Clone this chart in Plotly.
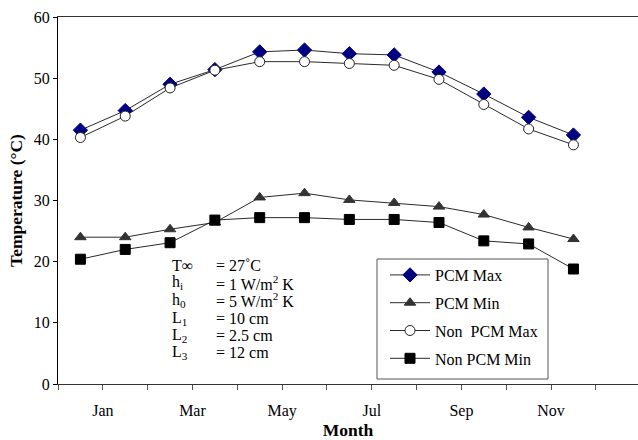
import plotly.graph_objects as go

months = ["Jan", "Feb", "Mar", "Apr", "May", "Jun", "Jul", "Aug", "Sep", "Oct", "Nov", "Dec"]
pcm_max = [41.5, 44.7, 49.0, 51.4, 54.3, 54.6, 54.0, 53.8, 51.0, 47.4, 43.6, 40.7]
pcm_min = [24.0, 24.0, 25.3, 26.4, 30.5, 31.2, 30.1, 29.6, 29.0, 27.7, 25.6, 23.7]
non_pcm_max = [40.3, 43.8, 48.4, 51.3, 52.7, 52.7, 52.4, 52.1, 49.8, 45.7, 41.7, 39.1]
non_pcm_min = [20.4, 22.0, 23.1, 26.8, 27.2, 27.2, 26.9, 26.9, 26.4, 23.4, 22.9, 18.8]

tick_positions = list(range(0, 13))
tick_labels = ["" if i % 2 == 0 else months[i - 1] for i in tick_positions]

param_names = ["T∞", "h<sub>i</sub>", "h<sub>0</sub>", "L<sub>1</sub>", "L<sub>2</sub>", "L<sub>3</sub>"]
param_values = ["= 27˚C", "= 1 W/m<sup>2</sup> K", "= 5 W/m<sup>2</sup> K", "= 10 cm", "= 2.5 cm", "= 12 cm"]
param_y = [19.45, 16.56, 13.73, 10.74, 8.01, 5.18]

xpos = [i + 0.5 for i in range(len(months))]
FONT = "Liberation Serif"
TF = dict(family=FONT, size=16, color="black")
LINE = dict(color="#2a2a2a", width=1)

fig = go.Figure()
series = [
    ("PCM Max", pcm_max, dict(symbol="diamond", size=11, color="#000080", line=dict(color="#000080", width=1))),
    ("PCM Min", pcm_min, dict(symbol="triangle-up", size=10, color="#333333", line=dict(color="#333333", width=1))),
    ("Non  PCM Max", non_pcm_max, dict(symbol="circle", size=10, color="white", line=dict(color="#222222", width=1))),
    ("Non PCM Min", non_pcm_min, dict(symbol="square", size=10, color="black", line=dict(color="black", width=1))),
]
for name, vals, mk in series:
    fig.add_trace(go.Scatter(x=xpos, y=vals, mode="lines+markers", name=name,
                             line=LINE, marker=mk, legendgroup=name))

ann = []
for n, v, yy in zip(param_names, param_values, param_y):
    ann.append(dict(x=2.5, y=yy, xref="x", yref="y", text=n, showarrow=False,
                    xanchor="left", yanchor="middle", font=TF))
    ann.append(dict(x=3.47, y=yy, xref="x", yref="y", text=v, showarrow=False,
                    xanchor="left", yanchor="middle", font=TF))

# legend frame (paper coordinates)
PW, PH = 580.0, 367.0
fig.add_shape(type="rect", xref="paper", yref="paper",
              x0=(377 - 58) / PW, x1=(548 - 58) / PW,
              y0=(384 - 379) / PH, y1=(384 - 259) / PH,
              line=dict(color="#555555", width=1), fillcolor="white", layer="below")

fig.update_layout(
    width=638, height=440,
    margin=dict(l=58, r=0, t=17, b=56),
    paper_bgcolor="white", plot_bgcolor="white",
    font=TF,
    showlegend=True,
    legend=dict(x=(385 - 58) / PW, y=(384 - 258) / PH, xanchor="left", yanchor="top",
                borderwidth=0, bgcolor="rgba(0,0,0,0)",
                font=TF, tracegroupgap=4, itemwidth=40, itemsizing="trace"),
    annotations=ann,
)
fig.update_xaxes(range=[0, 12.94], tickmode="array", tickvals=tick_positions, ticktext=tick_labels,
                 tickfont=TF,
                 showgrid=False, zeroline=False, showline=True, linecolor="#333333", linewidth=1,
                 mirror=True, ticks="outside", ticklen=5, tickcolor="#555555",
                 ticklabelstandoff=7,
                 title=dict(text="<b>Month</b>", font=dict(family=FONT, size=17.5, color="black"), standoff=4))
fig.update_yaxes(range=[0, 60], tickmode="array", tickvals=[0, 10, 20, 30, 40, 50, 60],
                 tickfont=TF,
                 showgrid=False, zeroline=False, showline=True, linecolor="black", linewidth=1,
                 ticks="outside", ticklen=4, tickcolor="black",
                 title=dict(text="<b>Temperature (°C)</b>", font=dict(family=FONT, size=17.5, color="black"), standoff=6))

fig.write_html("out.html")
